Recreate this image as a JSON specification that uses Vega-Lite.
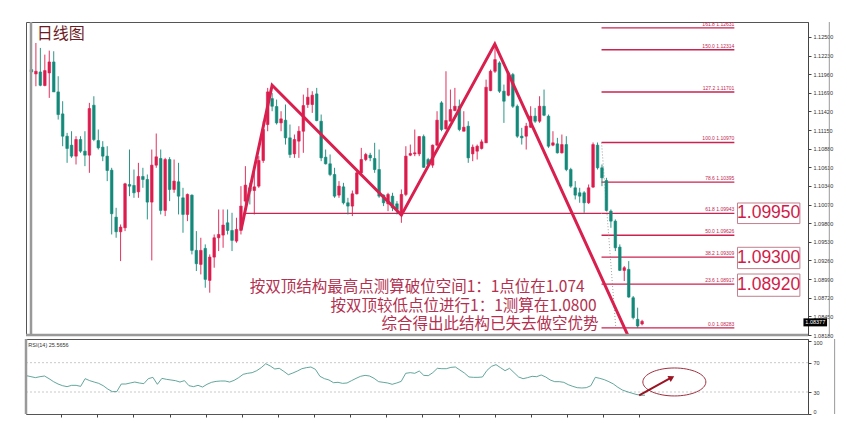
{
"$schema":"https://vega.github.io/schema/vega-lite/v6.json",
"background":"white",
"padding":{"left":24,"top":20,"right":5,"bottom":5},
"autosize":{"type":"pad"},
"spacing":-3,
"config":{"view":{"stroke":"#555","strokeWidth":1},"font":"Liberation Sans"},
"datasets":{
"one":[{}],
"candles":[
{"i":0,"o":1.12026,"h":1.12509,"l":1.11688,"c":1.11992},
{"i":1,"o":1.11964,"h":1.12412,"l":1.11785,"c":1.12002},
{"i":2,"o":1.11992,"h":1.12340,"l":1.11785,"c":1.11799},
{"i":3,"o":1.11795,"h":1.12243,"l":1.11785,"c":1.12012},
{"i":4,"o":1.11978,"h":1.12301,"l":1.11616,"c":1.12137},
{"i":5,"o":1.12137,"h":1.12292,"l":1.11713,"c":1.11703},
{"i":6,"o":1.11703,"h":1.11930,"l":1.11302,"c":1.11375},
{"i":7,"o":1.11384,"h":1.11568,"l":1.10916,"c":1.11061},
{"i":8,"o":1.11061,"h":1.11109,"l":1.10675,"c":1.10883},
{"i":9,"o":1.10931,"h":1.11133,"l":1.10747,"c":1.10772},
{"i":10,"o":1.10772,"h":1.11061,"l":1.10651,"c":1.11013},
{"i":11,"o":1.11013,"h":1.11061,"l":1.10820,"c":1.10844},
{"i":12,"o":1.10844,"h":1.11133,"l":1.10627,"c":1.10786},
{"i":13,"o":1.10786,"h":1.11544,"l":1.10530,"c":1.11462},
{"i":14,"o":1.11510,"h":1.11640,"l":1.10989,"c":1.11013},
{"i":15,"o":1.10998,"h":1.11158,"l":1.10868,"c":1.10892},
{"i":16,"o":1.10902,"h":1.10989,"l":1.10699,"c":1.10772},
{"i":17,"o":1.10772,"h":1.10916,"l":1.10410,"c":1.10564},
{"i":18,"o":1.10569,"h":1.10603,"l":1.09637,"c":1.09937},
{"i":19,"o":1.09888,"h":1.10023,"l":1.09589,"c":1.09676},
{"i":20,"o":1.09676,"h":1.09782,"l":1.09251,"c":1.09744},
{"i":21,"o":1.09734,"h":1.10385,"l":1.09686,"c":1.10371},
{"i":22,"o":1.10361,"h":1.10868,"l":1.10192,"c":1.10337},
{"i":23,"o":1.10347,"h":1.10578,"l":1.10168,"c":1.10241},
{"i":24,"o":1.10255,"h":1.10675,"l":1.10168,"c":1.10477},
{"i":25,"o":1.10477,"h":1.10603,"l":1.10313,"c":1.10434},
{"i":26,"o":1.10434,"h":1.10506,"l":1.09855,"c":1.10106},
{"i":27,"o":1.10106,"h":1.10868,"l":1.09261,"c":1.10641},
{"i":28,"o":1.10641,"h":1.11100,"l":1.10603,"c":1.10762},
{"i":29,"o":1.10738,"h":1.10868,"l":1.09927,"c":1.09985},
{"i":30,"o":1.09985,"h":1.10747,"l":1.09903,"c":1.10723},
{"i":31,"o":1.10723,"h":1.10757,"l":1.10120,"c":1.10289},
{"i":32,"o":1.10289,"h":1.10723,"l":1.10241,"c":1.10410},
{"i":33,"o":1.10400,"h":1.10675,"l":1.09927,"c":1.10192},
{"i":34,"o":1.10168,"h":1.10313,"l":1.09662,"c":1.09927},
{"i":35,"o":1.09927,"h":1.10230,"l":1.09830,"c":1.10217},
{"i":36,"o":1.10207,"h":1.10217,"l":1.09348,"c":1.09406},
{"i":37,"o":1.09406,"h":1.09686,"l":1.09107,"c":1.09213},
{"i":38,"o":1.09203,"h":1.09589,"l":1.09058,"c":1.09406},
{"i":39,"o":1.09435,"h":1.09493,"l":1.08865,"c":1.08986},
{"i":40,"o":1.08971,"h":1.09348,"l":1.08793,"c":1.09309},
{"i":41,"o":1.09309,"h":1.09637,"l":1.09155,"c":1.09589},
{"i":42,"o":1.09589,"h":1.09999,"l":1.09396,"c":1.09637},
{"i":43,"o":1.09628,"h":1.09999,"l":1.09444,"c":1.09773},
{"i":44,"o":1.09806,"h":1.09999,"l":1.09637,"c":1.09695},
{"i":45,"o":1.09695,"h":1.09951,"l":1.09396,"c":1.09551},
{"i":46,"o":1.09541,"h":1.09879,"l":1.09517,"c":1.09710},
{"i":47,"o":1.09695,"h":1.10337,"l":1.09637,"c":1.10048},
{"i":48,"o":1.10120,"h":1.10627,"l":1.10000,"c":1.10352},
{"i":49,"o":1.10313,"h":1.10385,"l":1.10072,"c":1.10265},
{"i":50,"o":1.10274,"h":1.10554,"l":1.09927,"c":1.10327},
{"i":51,"o":1.10337,"h":1.10772,"l":1.10313,"c":1.10709},
{"i":52,"o":1.10709,"h":1.11278,"l":1.10675,"c":1.11158},
{"i":53,"o":1.11230,"h":1.11761,"l":1.11133,"c":1.11703},
{"i":54,"o":1.11606,"h":1.11688,"l":1.11423,"c":1.11495},
{"i":55,"o":1.11491,"h":1.11592,"l":1.11230,"c":1.11254},
{"i":56,"o":1.11254,"h":1.11423,"l":1.11133,"c":1.11312},
{"i":57,"o":1.11293,"h":1.11520,"l":1.10940,"c":1.11037},
{"i":58,"o":1.11037,"h":1.11230,"l":1.10747,"c":1.10796},
{"i":59,"o":1.10805,"h":1.11085,"l":1.10747,"c":1.11013},
{"i":60,"o":1.10989,"h":1.11206,"l":1.10747,"c":1.11133},
{"i":61,"o":1.11133,"h":1.11664,"l":1.10820,"c":1.11505},
{"i":62,"o":1.11520,"h":1.11761,"l":1.11471,"c":1.11626},
{"i":63,"o":1.11520,"h":1.11713,"l":1.11399,"c":1.11655},
{"i":64,"o":1.11674,"h":1.11761,"l":1.11278,"c":1.11288},
{"i":65,"o":1.11278,"h":1.11375,"l":1.10699,"c":1.10747},
{"i":66,"o":1.10757,"h":1.10868,"l":1.10651,"c":1.10661},
{"i":67,"o":1.10661,"h":1.10796,"l":1.10482,"c":1.10506},
{"i":68,"o":1.10506,"h":1.10603,"l":1.10168,"c":1.10192},
{"i":69,"o":1.10207,"h":1.10410,"l":1.10168,"c":1.10337},
{"i":70,"o":1.10327,"h":1.10385,"l":1.10072,"c":1.10096},
{"i":71,"o":1.10096,"h":1.10168,"l":1.09927,"c":1.10048},
{"i":72,"o":1.10048,"h":1.10274,"l":1.09903,"c":1.10226},
{"i":73,"o":1.10226,"h":1.10554,"l":1.10217,"c":1.10530},
{"i":74,"o":1.10530,"h":1.10892,"l":1.10482,"c":1.10723},
{"i":75,"o":1.10723,"h":1.10820,"l":1.10699,"c":1.10796},
{"i":76,"o":1.10786,"h":1.10820,"l":1.10699,"c":1.10747},
{"i":77,"o":1.10738,"h":1.10965,"l":1.10530,"c":1.10578},
{"i":78,"o":1.10578,"h":1.10868,"l":1.10168,"c":1.10192},
{"i":79,"o":1.10207,"h":1.10217,"l":1.10048,"c":1.10096},
{"i":80,"o":1.10081,"h":1.10241,"l":1.09975,"c":1.10217},
{"i":81,"o":1.10192,"h":1.10241,"l":1.09975,"c":1.10023},
{"i":82,"o":1.10081,"h":1.10120,"l":1.09927,"c":1.09999},
{"i":83,"o":1.09951,"h":1.10289,"l":1.09806,"c":1.10217},
{"i":84,"o":1.10217,"h":1.10916,"l":1.10192,"c":1.10772},
{"i":85,"o":1.10786,"h":1.10940,"l":1.10772,"c":1.10810},
{"i":86,"o":1.10805,"h":1.11158,"l":1.10772,"c":1.10820},
{"i":87,"o":1.10805,"h":1.11061,"l":1.10772,"c":1.11056},
{"i":88,"o":1.11056,"h":1.11085,"l":1.10603,"c":1.10610},
{"i":89,"o":1.10723,"h":1.10747,"l":1.10603,"c":1.10651},
{"i":90,"o":1.10641,"h":1.10940,"l":1.10603,"c":1.10931},
{"i":91,"o":1.10931,"h":1.11423,"l":1.10916,"c":1.11293},
{"i":92,"o":1.11544,"h":1.11568,"l":1.11133,"c":1.11158},
{"i":93,"o":1.11167,"h":1.12002,"l":1.11158,"c":1.11288},
{"i":94,"o":1.11278,"h":1.11737,"l":1.11278,"c":1.11447},
{"i":95,"o":1.11433,"h":1.11761,"l":1.11423,"c":1.11495},
{"i":96,"o":1.11495,"h":1.11592,"l":1.11133,"c":1.11158},
{"i":97,"o":1.11133,"h":1.11423,"l":1.11133,"c":1.11191},
{"i":98,"o":1.11206,"h":1.11278,"l":1.10675,"c":1.10747},
{"i":99,"o":1.10805,"h":1.10940,"l":1.10699,"c":1.10902},
{"i":100,"o":1.10844,"h":1.10940,"l":1.10723,"c":1.10916},
{"i":101,"o":1.10883,"h":1.11013,"l":1.10868,"c":1.10979},
{"i":102,"o":1.10965,"h":1.11881,"l":1.10965,"c":1.11770},
{"i":103,"o":1.11722,"h":1.12026,"l":1.11713,"c":1.12002},
{"i":104,"o":1.12002,"h":1.12380,"l":1.11978,"c":1.12171},
{"i":105,"o":1.12123,"h":1.12147,"l":1.11688,"c":1.11713},
{"i":106,"o":1.11713,"h":1.11809,"l":1.11254,"c":1.11568},
{"i":107,"o":1.11655,"h":1.12002,"l":1.11640,"c":1.11978},
{"i":108,"o":1.11954,"h":1.11978,"l":1.11471,"c":1.11495},
{"i":109,"o":1.11495,"h":1.11520,"l":1.11037,"c":1.11061},
{"i":110,"o":1.11061,"h":1.11182,"l":1.10940,"c":1.11037},
{"i":111,"o":1.11061,"h":1.11254,"l":1.10868,"c":1.11206},
{"i":112,"o":1.11191,"h":1.11495,"l":1.11182,"c":1.11351},
{"i":113,"o":1.11351,"h":1.11471,"l":1.11254,"c":1.11278},
{"i":114,"o":1.11278,"h":1.11640,"l":1.11254,"c":1.11495},
{"i":115,"o":1.11495,"h":1.11737,"l":1.11351,"c":1.11365},
{"i":116,"o":1.11351,"h":1.11375,"l":1.10892,"c":1.10916},
{"i":117,"o":1.10931,"h":1.11133,"l":1.10916,"c":1.10965},
{"i":118,"o":1.10950,"h":1.11037,"l":1.10810,"c":1.10820},
{"i":119,"o":1.10820,"h":1.11085,"l":1.10810,"c":1.10940},
{"i":120,"o":1.10940,"h":1.11061,"l":1.10554,"c":1.10578},
{"i":121,"o":1.10578,"h":1.10603,"l":1.10313,"c":1.10337},
{"i":122,"o":1.10313,"h":1.10410,"l":1.10144,"c":1.10207},
{"i":123,"o":1.10241,"h":1.10313,"l":1.10096,"c":1.10192},
{"i":124,"o":1.10241,"h":1.10265,"l":1.09951,"c":1.10096},
{"i":125,"o":1.10096,"h":1.10361,"l":1.10080,"c":1.10313},
{"i":126,"o":1.10323,"h":1.10970,"l":1.10313,"c":1.10940},
{"i":127,"o":1.10931,"h":1.10970,"l":1.10578,"c":1.10603},
{"i":128,"o":1.10603,"h":1.10651,"l":1.10337,"c":1.10458},
{"i":129,"o":1.10419,"h":1.10458,"l":1.09975,"c":1.09985},
{"i":130,"o":1.09975,"h":1.09999,"l":1.09734,"c":1.09830},
{"i":131,"o":1.09830,"h":1.09855,"l":1.09396,"c":1.09444},
{"i":132,"o":1.09454,"h":1.09493,"l":1.09107,"c":1.09117},
{"i":133,"o":1.09116,"h":1.09179,"l":1.08962,"c":1.09155},
{"i":134,"o":1.09131,"h":1.09251,"l":1.08720,"c":1.08730},
{"i":135,"o":1.08720,"h":1.08745,"l":1.08407,"c":1.08431},
{"i":136,"o":1.08407,"h":1.08576,"l":1.08283,"c":1.08310},
{"i":137,"o":1.08340,"h":1.08400,"l":1.08320,"c":1.08377}
],
"rsi":[
{"i":0,"v":52.3},{"i":1,"v":50.9},{"i":2,"v":49.6},{"i":3,"v":50.9},{"i":4,"v":51.8},{"i":5,"v":48.2},{"i":6,"v":44.1},{"i":7,"v":40.9},{"i":8,"v":38.6},{"i":9,"v":37.3},
{"i":10,"v":39.1},{"i":11,"v":39.1},{"i":12,"v":37.7},{"i":13,"v":48.2},{"i":14,"v":45.5},{"i":15,"v":43.6},{"i":16,"v":41.8},{"i":17,"v":38.6},{"i":18,"v":34.1},{"i":19,"v":30.5},
{"i":20,"v":30.5},{"i":21,"v":40.9},{"i":22,"v":40.9},{"i":23,"v":42.3},{"i":24,"v":43.6},{"i":25,"v":42.3},{"i":26,"v":41.4},{"i":27,"v":48.2},{"i":28,"v":50.0},{"i":29,"v":40.5},
{"i":30,"v":48.6},{"i":31,"v":47.3},{"i":32,"v":46.4},{"i":33,"v":45.5},{"i":34,"v":43.6},{"i":35,"v":45.5},{"i":36,"v":38.6},{"i":37,"v":37.3},{"i":38,"v":39.1},{"i":39,"v":36.8},
{"i":40,"v":40.5},{"i":41,"v":43.2},{"i":42,"v":44.5},{"i":43,"v":45.0},{"i":44,"v":45.0},{"i":45,"v":43.6},{"i":46,"v":45.9},{"i":47,"v":49.6},{"i":48,"v":54.1},{"i":49,"v":55.5},
{"i":50,"v":56.4},{"i":51,"v":59.1},{"i":52,"v":63.2},{"i":53,"v":68.6},{"i":54,"v":65.5},{"i":55,"v":61.4},{"i":56,"v":62.3},{"i":57,"v":58.2},{"i":58,"v":53.6},{"i":59,"v":55.9},
{"i":60,"v":58.6},{"i":61,"v":61.8},{"i":62,"v":63.2},{"i":63,"v":64.1},{"i":64,"v":60.9},{"i":65,"v":51.4},{"i":66,"v":48.2},{"i":67,"v":46.4},{"i":68,"v":42.7},{"i":69,"v":43.2},
{"i":70,"v":41.8},{"i":71,"v":42.3},{"i":72,"v":45.5},{"i":73,"v":48.6},{"i":74,"v":51.4},{"i":75,"v":52.7},{"i":76,"v":51.8},{"i":77,"v":48.6},{"i":78,"v":44.1},{"i":79,"v":43.2},
{"i":80,"v":42.3},{"i":81,"v":40.5},{"i":82,"v":42.3},{"i":83,"v":44.5},{"i":84,"v":55.5},{"i":85,"v":56.4},{"i":86,"v":55.5},{"i":87,"v":58.6},{"i":88,"v":52.7},{"i":89,"v":52.3},
{"i":90,"v":56.4},{"i":91,"v":62.3},{"i":92,"v":61.8},{"i":93,"v":61.8},{"i":94,"v":63.6},{"i":95,"v":64.1},{"i":96,"v":60.0},{"i":97,"v":55.9},{"i":98,"v":50.5},{"i":99,"v":50.0},
{"i":100,"v":50.0},{"i":101,"v":50.5},{"i":102,"v":59.5},{"i":103,"v":65.0},{"i":104,"v":67.3},{"i":105,"v":63.2},{"i":106,"v":59.1},{"i":107,"v":62.3},{"i":108,"v":56.4},{"i":109,"v":50.5},
{"i":110,"v":48.2},{"i":111,"v":49.6},{"i":112,"v":51.4},{"i":113,"v":50.9},{"i":114,"v":53.2},{"i":115,"v":50.5},{"i":116,"v":46.4},{"i":117,"v":44.1},{"i":118,"v":44.1},{"i":119,"v":43.2},
{"i":120,"v":40.0},{"i":121,"v":37.7},{"i":122,"v":35.9},{"i":123,"v":35.5},{"i":124,"v":35.9},{"i":125,"v":38.6},{"i":126,"v":50.0},{"i":127,"v":48.6},{"i":128,"v":46.8},{"i":129,"v":44.1},
{"i":130,"v":40.9},{"i":131,"v":36.4},{"i":132,"v":32.7},{"i":133,"v":30.5},{"i":134,"v":28.6},{"i":135,"v":26.8},{"i":136,"v":25.5},{"i":137,"v":25.6}
],
"fib":[
{"p":1.08283,"label":"0.0  1.08283"},
{"p":1.08917,"label":"23.6  1.08917"},
{"p":1.09309,"label":"38.2  1.09309"},
{"p":1.09626,"label":"50.0  1.09626"},
{"p":1.09943,"label":"61.8  1.09943"},
{"p":1.10395,"label":"78.6  1.10395"},
{"p":1.10970,"label":"100.0  1.10970"},
{"p":1.11701,"label":"127.2  1.11701"},
{"p":1.12314,"label":"150.0  1.12314"},
{"p":1.12631,"label":"161.8  1.12631"}
],
"pattern":[
{"i":47.05,"p":1.0971},{"i":54.0,"p":1.1180},{"i":83.0,"p":1.09917},{"i":103.96,"p":1.12397},{"i":134.2,"p":1.0812}
],
"diag":[{"i":127.9,"p":1.1097},{"i":131.1,"p":1.08283}],
"notes":[
{"t":"按双顶结构最高点测算破位空间1：1点位在1.074","i":124.1,"p":1.08871},
{"t":"按双顶较低点位进行1：1测算在1.0800","i":126.8,"p":1.08596},
{"t":"综合得出此结构已失去做空优势","i":127.2,"p":1.08340}
],
"boxes":[
{"t":"1.09950","x1":158.4,"x2":172.4,"y1":1.09795,"y2":1.10093,"xc":165.4,"yc":1.09944},
{"t":"1.09300","x1":158.4,"x2":172.4,"y1":1.09142,"y2":1.09451,"xc":165.4,"yc":1.09297},
{"t":"1.08920","x1":158.4,"x2":172.4,"y1":1.08741,"y2":1.09064,"xc":165.4,"yc":1.08903}
],
"levels":[{"v":30},{"v":70}]
},
"vconcat":[
{
"width":782,"height":313,
"layer":[
{"data":{"name":"fib"},"mark":{"type":"rule","color":"#cc2250","strokeWidth":1.4},
 "encoding":{
  "x":{"datum":127.9,"type":"quantitative","title":null,"scale":{"domain":[-0.1,173.1],"nice":false,"zero":false},"axis":null},
  "x2":{"datum":157.7},
  "y":{"field":"p","type":"quantitative","title":null,"scale":{"domain":[1.0818,1.12716],"nice":false,"zero":false},
   "axis":{"orient":"right","title":null,"values":[1.125,1.1223,1.1196,1.1169,1.1142,1.1115,1.1088,1.1061,1.1034,1.1007,1.098,1.0953,1.0926,1.0899,1.0872,1.0845,1.0818],"tickCount":50,"format":".5f","labelFontSize":5.5,"labelColor":"#333","tickSize":3,"tickColor":"#444","domainColor":"#444","labelPadding":2,"grid":false,"labelOverlap":false,"labelFont":"Liberation Sans"}}
 }},
{"data":{"name":"one"},"mark":{"type":"rule","color":"#cc2250","strokeWidth":1.4},
 "encoding":{"x":{"datum":47.9,"type":"quantitative","axis":null},"x2":{"datum":127.9},"y":{"datum":1.09943,"type":"quantitative"}}},
{"data":{"name":"fib"},"mark":{"type":"text","align":"right","baseline":"bottom","dy":-1,"fontSize":5,"color":"#c0284f","font":"Liberation Sans"},
 "encoding":{"x":{"datum":157.7,"type":"quantitative","axis":null},"y":{"field":"p","type":"quantitative"},"text":{"field":"label"}}},
{"data":{"name":"diag"},"mark":{"type":"line","color":"#888","strokeWidth":0.8,"strokeDash":[1,2]},
 "encoding":{"x":{"field":"i","type":"quantitative","axis":null},"y":{"field":"p","type":"quantitative"}}},
{"data":{"name":"candles"},"mark":{"type":"rule","strokeWidth":0.9},
 "encoding":{"x":{"field":"i","type":"quantitative","axis":null},"y":{"field":"h","type":"quantitative"},"y2":{"field":"l"},
  "color":{"condition":{"test":"datum.c >= datum.o","value":"#dc1c4e"},"value":"#14897a"}}},
{"data":{"name":"candles"},"mark":{"type":"bar","size":2.6,"strokeWidth":0.6},
 "encoding":{"x":{"field":"i","type":"quantitative","axis":null},"y":{"field":"o","type":"quantitative"},"y2":{"field":"c"},
  "color":{"condition":{"test":"datum.c >= datum.o","value":"#dc1c4e"},"value":"#14897a"},
  "stroke":{"condition":{"test":"datum.c >= datum.o","value":"#dc1c4e"},"value":"#14897a"}}},
{"data":{"name":"pattern"},"mark":{"type":"line","color":"#d81f4e","strokeWidth":3,"clip":true},
 "encoding":{"x":{"field":"i","type":"quantitative","axis":null},"y":{"field":"p","type":"quantitative"}}},
{"data":{"name":"notes"},"mark":{"type":"text","align":"right","baseline":"middle","fontSize":15.5,"font":"Noto Sans CJK SC","color":"#b3304f"},
 "encoding":{"x":{"field":"i","type":"quantitative","axis":null},"y":{"field":"p","type":"quantitative"},"text":{"field":"t"}}},
{"data":{"name":"one"},"mark":{"type":"text","align":"left","baseline":"middle","fontSize":16,"font":"Noto Sans CJK SC","color":"#6e1c24","text":"日线图"},
 "encoding":{"x":{"datum":1.2,"type":"quantitative","axis":null},"y":{"datum":1.12538,"type":"quantitative"}}},
{"data":{"name":"boxes"},"mark":{"type":"rect","fill":"white","stroke":"#c0808d","strokeWidth":1},
 "encoding":{"x":{"field":"x1","type":"quantitative","axis":null},"x2":{"field":"x2"},"y":{"field":"y1","type":"quantitative"},"y2":{"field":"y2"}}},
{"data":{"name":"boxes"},"mark":{"type":"text","align":"center","baseline":"middle","fontSize":17.5,"font":"Liberation Sans","color":"#d01c4a"},
 "encoding":{"x":{"field":"xc","type":"quantitative","axis":null},"y":{"field":"yc","type":"quantitative"},"text":{"field":"t"}}},
{"data":{"name":"one"},"mark":{"type":"rect","color":"#000"},
 "encoding":{"x":{"datum":173.2,"type":"quantitative","axis":null},"x2":{"datum":178.5},"y":{"datum":1.08305,"type":"quantitative"},"y2":{"datum":1.08421}}},
{"data":{"name":"one"},"mark":{"type":"text","align":"center","baseline":"middle","fontSize":5.5,"color":"white","text":"1.08377","font":"Liberation Sans"},
 "encoding":{"x":{"datum":175.85,"type":"quantitative","axis":null},"y":{"datum":1.08363,"type":"quantitative"}}},
{"data":{"name":"one"},"mark":{"type":"rule","color":"#999","strokeWidth":2.5},
 "encoding":{"x":{"datum":-0.1,"type":"quantitative","axis":null}}},
{"data":{"name":"one"},"mark":{"type":"rule","color":"#999","strokeWidth":2.5},
 "encoding":{"y":{"datum":1.0818,"type":"quantitative"}}},
{"data":{"name":"one"},"mark":{"type":"rule","color":"#999","strokeWidth":1},
 "encoding":{"x":{"datum":179.0,"type":"quantitative","axis":null},"y":{"datum":1.12716,"type":"quantitative"},"y2":{"datum":1.0818}}}
]
},
{
"width":782,"height":75,
"layer":[
{"data":{"name":"levels"},"mark":{"type":"rule","color":"#bbb","strokeWidth":0.8,"strokeDash":[2,2]},
 "encoding":{
  "x":{"datum":-0.1,"type":"quantitative","title":null,"scale":{"domain":[-0.1,173.1],"nice":false,"zero":false},
   "axis":{"orient":"bottom","title":null,"labels":false,"values":[7.7,15.7,23.7,31.7,39.7,47.7,55.7,63.7,71.7,79.7,87.7,95.7,103.7,111.7,119.7,127.7,135.7],"tickCount":50,"tickSize":3,"tickColor":"#444","domain":false,"grid":false}},
  "x2":{"datum":173.1},
  "y":{"field":"v","type":"quantitative","title":null,"scale":{"domain":[0,102.3],"nice":false,"zero":false},
   "axis":{"orient":"right","title":null,"values":[0,30,70,100],"tickCount":20,"labelFontSize":5.5,"labelColor":"#333","tickSize":3,"tickColor":"#444","domainColor":"#444","labelPadding":2,"grid":false,"labelOverlap":false,"labelFont":"Liberation Sans",
    "labelBaseline":{"condition":[{"test":"datum.value == 100","value":"top"},{"test":"datum.value == 0","value":"bottom"}],"value":"middle"}}}
 }},
{"data":{"name":"rsi"},"mark":{"type":"line","color":"#3a8f82","strokeWidth":0.8},
 "encoding":{"x":{"field":"i","type":"quantitative"},"y":{"field":"v","type":"quantitative"}}},
{"data":{"name":"one"},"mark":{"type":"text","align":"left","baseline":"middle","fontSize":5.5,"color":"#333","text":"RSI(14) 25.5656","font":"Liberation Sans"},
 "encoding":{"x":{"datum":0.4,"type":"quantitative"},"y":{"datum":94,"type":"quantitative"}}},
{"data":{"name":"one"},"mark":{"type":"point","shape":"M -1 0 A 1 0.444 0 1 0 1 0 A 1 0.444 0 1 0 -1 0 Z","size":3969,"filled":false,"stroke":"#a03040","strokeWidth":1,"opacity":1},
 "encoding":{"x":{"datum":143.5,"type":"quantitative"},"y":{"datum":43.7,"type":"quantitative"}}},
{"data":{"name":"one"},"mark":{"type":"rule","color":"#9a1423","strokeWidth":2},
 "encoding":{"x":{"datum":135.7,"type":"quantitative"},"y":{"datum":25.5,"type":"quantitative"},"x2":{"datum":142.7},"y2":{"datum":49.3}}},
{"data":{"name":"one"},"mark":{"type":"point","shape":"triangle-up","size":45,"filled":true,"color":"#9a1423","angle":61,"opacity":1},
 "encoding":{"x":{"datum":142.9,"type":"quantitative"},"y":{"datum":49.6,"type":"quantitative"}}},
{"data":{"name":"one"},"mark":{"type":"rule","color":"#999","strokeWidth":2.5},
 "encoding":{"x":{"datum":-0.1,"type":"quantitative"}}},
{"data":{"name":"one"},"mark":{"type":"rule","color":"#999","strokeWidth":1},
 "encoding":{"x":{"datum":179.0,"type":"quantitative"},"y":{"datum":102.3,"type":"quantitative"},"y2":{"datum":0}}}
]
}
]
}
